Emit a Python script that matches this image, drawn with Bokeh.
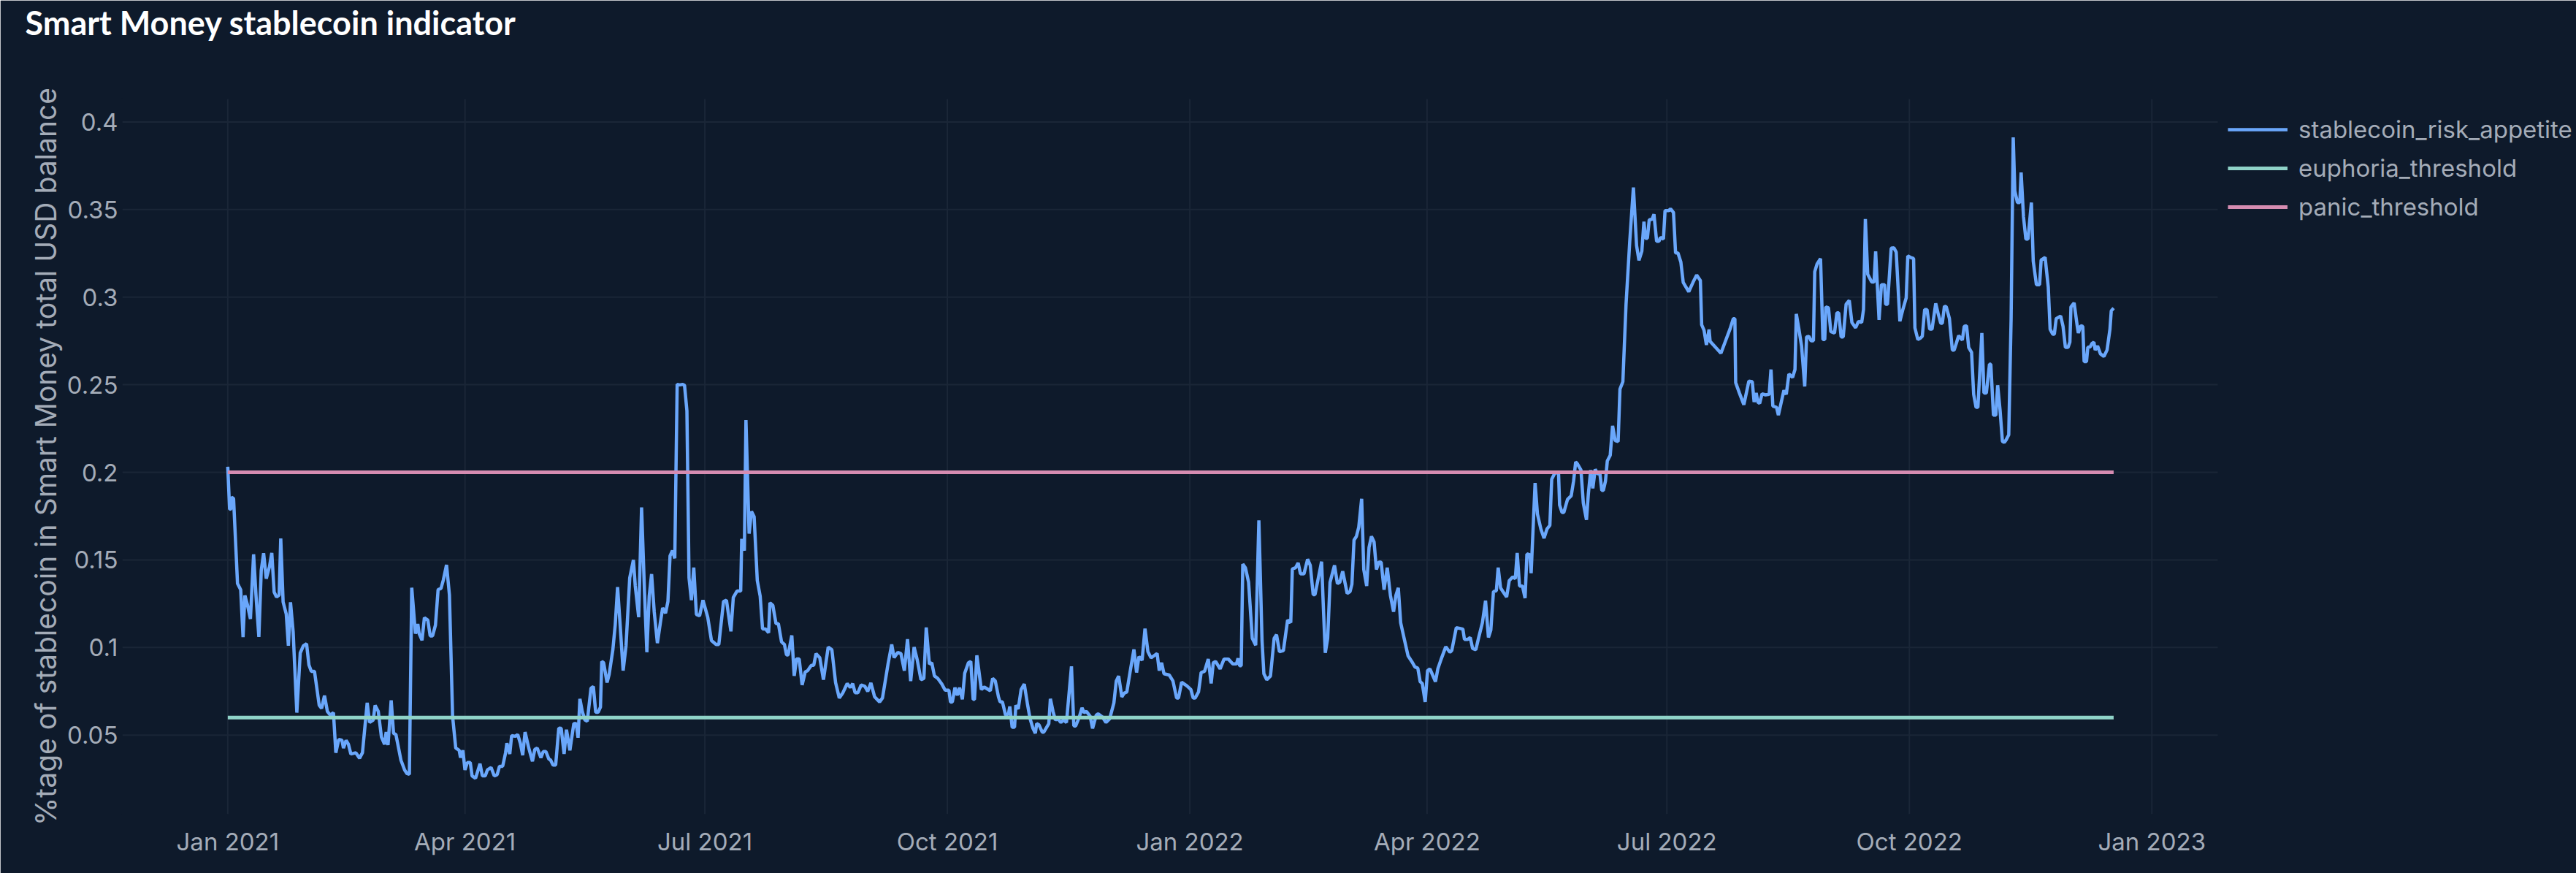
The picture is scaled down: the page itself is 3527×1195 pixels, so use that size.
import datetime as dt
from bokeh.plotting import figure
from bokeh.models import (Range1d, FixedTicker, DatetimeTickFormatter, Legend,
                          LegendItem, Title, ColumnDataSource)
from bokeh.embed import file_html
from bokeh.resources import INLINE

# ---------------- data ----------------
start_date = "2021-01-01"
day_offsets = [
    0, 0.7, 1.2, 1.4, 2.2, 3.7, 4.9, 5.8, 6.5, 7.4, 8.6, 9.8, 10.7, 11.8, 12.7, 13.6, 14.6, 15.8, 16.7, 17.6,
    18.5, 19.5, 20.1, 21.0, 22.2, 23.0, 23.8, 24.8, 26.2, 27.5, 28.7, 29.9, 30.8, 31.7, 32.9, 34.7, 35.6, 36.7,
    37.8, 38.9, 40.1, 41.0, 42.1, 43.3, 43.9, 44.9, 45.8, 46.7, 48.6, 50.0, 51.1, 52.9, 53.8, 55.2, 55.9, 57.1,
    58.3, 59.5, 60.1, 60.8, 62.0, 62.9, 63.8, 65.7, 67.1, 68.0, 68.9, 69.8, 71.2, 72.1, 72.6, 73.7, 74.6, 75.9,
    76.8, 77.7, 78.8, 79.8, 80.9, 81.8, 83.0, 84.1, 85.3, 86.5, 87.8, 88.3, 89.2, 90.0, 90.9, 92.0, 92.7, 94.0,
    95.7, 96.6, 97.7, 98.5, 99.9, 101.1, 102.2, 103.1, 104.3, 105.4, 105.9, 107.0, 107.7, 109.1, 110.0, 111.0,
    111.9, 112.8, 114.2, 115.6, 116.5, 117.4, 118.8, 119.7, 120.7, 121.8, 122.5, 123.4, 124.4, 125.6, 126.5,
    127.6, 128.5, 129.8, 131.3, 132.2, 132.9, 133.6, 134.5, 135.5, 136.4, 137.8, 138.7,
    139.6, 140.5, 141.4, 141.9, 142.6, 143.9, 144.7, 146.1, 147.0, 147.9, 148.8, 150.0, 151.1, 152.5, 153.9,
    154.6, 155.9, 157.0, 158.1, 159.0, 159.9, 160.8, 161.8, 163.0, 164.3, 165.0, 166.1, 167.0, 167.8, 168.7,
    169.6, 170.5, 171.5, 172.6, 173.3, 174.2, 175.0, 175.9, 176.8, 177.8, 179.0, 180.3, 182.1, 183.5, 185.3,
    186.3, 188.1, 189.2, 190.9, 191.8, 193.2, 194.6, 195.0, 196.0, 196.6, 197.8, 198.7, 199.7, 200.9, 202.0,
    202.9, 204.0, 205.2, 205.7, 206.8, 208.0, 208.9, 210.1, 211.2, 212.0, 212.6, 214.0, 214.9, 215.8, 216.8,
    217.9, 219.1, 220.0, 221.4, 222.3, 223.2, 224.6, 226.0, 227.8, 229.2, 230.6, 232.0, 233.4, 235.0, 236.2,
    237.1, 238.0, 239.1, 240.3, 241.7, 242.8, 244.0, 245.4, 247.3, 248.4, 250.5, 251.9, 252.8, 254.2, 255.4,
    256.7, 257.9, 259.1, 260.4, 261.6, 263.0, 264.1, 265.0, 266.2, 267.1, 268.1, 269.4, 270.8, 272.2, 273.6,
    274.2, 274.9, 275.9, 276.8, 277.6, 278.7, 279.6,
    281.0, 281.9, 282.8, 283.3, 284.2, 285.9, 287.0, 289.3, 290.2, 291.2, 292.4, 293.0, 293.9, 295.1, 296.2,
    296.7, 297.6, 298.5, 299.0, 299.9, 301.0, 302.2, 303.4, 304.4, 305.5, 306.4, 306.9, 307.8, 309.0, 309.6,
    311.5, 312.1, 313.1, 314.0, 314.9, 316.1, 317.0, 318.2, 320.1, 321.0, 321.7, 323.0, 324.1, 324.9, 325.8,
    327.2, 328.1, 329.5, 330.2, 331.8, 333.2, 334.6, 336.2, 337.1, 338.0, 339.2, 340.1, 341.1, 342.3, 343.8,
    344.8, 345.7, 346.9, 348.0, 349.1, 350.3, 352.6, 353.4, 354.3, 355.2, 357.2, 358.6, 360.0, 360.7, 361.9,
    363.9, 365.4, 366.3, 367.0, 368.3, 369.3, 370.6, 372.0, 373.1, 373.9, 374.8, 376.5, 378.0, 379.6, 381.3,
    382.7, 383.3, 383.9, 384.5, 385.1, 386.1, 387.3, 388.7, 390.0, 391.2, 392.4, 393.1, 394.2, 395.6, 397.0,
    397.9, 399.0, 400.5, 402.1, 403.3, 403.9, 405.1, 406.1, 407.0, 408.3, 409.7, 410.7, 411.8, 412.5, 413.8,
    415.0, 415.7, 416.4, 417.3, 418.2, 419.9, 421.0, 421.9,
    423.0, 424.7, 425.8, 426.5, 427.3, 428.2, 429.1, 430.2, 431.0, 432.1, 433.0, 433.9, 434.9, 435.8, 436.7,
    437.6, 438.7, 439.9, 441.1, 442.3, 443.2, 444.1, 445.0, 446.4, 447.8, 449.2, 450.4, 451.5, 452.4, 453.2,
    454.3, 455.2, 456.1, 457.0, 458.2, 459.1, 460.3, 462.1, 463.7, 464.4, 466.1, 467.4, 468.6, 469.2, 470.4,
    471.4, 472.3, 473.5, 474.6, 476.0, 477.2, 478.3, 479.2, 480.2, 481.3, 482.0, 482.9, 483.8, 485.2, 486.2,
    487.5, 488.5, 489.2, 490.1, 491.2, 492.2, 492.9, 494.0, 494.5, 496.0, 496.9, 498.2, 499.4, 500.5, 501.6,
    502.3, 503.7, 504.9, 505.3, 506.2, 506.9, 508.3, 509.7, 510.6, 511.4, 512.0, 513.4, 514.3, 515.5, 516.2,
    517.1, 517.9, 518.8, 519.7, 520.6, 521.3, 521.9, 522.7, 523.4, 524.5, 525.4, 526.4, 527.5, 528.2, 529.3,
    530.5, 531.9, 533.3, 534.5, 535.4, 536.5, 537.3, 537.9, 538.6, 539.3, 540.4, 541.1, 542.1, 543.0, 543.5,
    544.7, 545.3, 546.7, 547.4, 548.5, 549.3, 550.2, 551.3, 552.2, 554.3, 555.9, 557.3, 558.7, 559.2, 560.1,
    561.0, 562.0, 562.4, 564.3, 566.5, 568.5, 570.0,
    571.2, 571.8, 572.1, 573.5, 575.2, 577.1, 578.4, 579.1, 579.9, 580.5, 581.2, 582.1, 583.4, 584.8, 585.5,
    586.2, 587.6, 588.3, 590.4, 591.3, 592.3, 593.7, 594.6, 595.1, 596.0, 597.1, 598.3, 599.0, 599.9, 600.7,
    601.6, 602.1, 603.0, 604.3, 605.2, 605.9, 606.3, 607.3, 608.2, 609.6, 610.5, 611.2, 612.1, 612.9, 614.0,
    615.2, 616.2, 617.6, 618.7, 619.9, 620.6, 621.3, 622.2, 623.7, 624.6, 625.2, 626.5, 627.4, 628.6, 629.0,
    629.7, 631.1, 632.1, 633.0, 634.4, 635.4, 636.8, 637.4, 638.4, 639.6, 640.1, 641.2, 642.1, 642.9, 643.8,
    644.7, 645.7, 646.6, 648.0, 648.9, 649.9, 650.5, 651.3, 652.0, 653.2, 654.3, 655.0, 655.8, 656.7, 658.1,
    658.8, 659.7, 660.5, 661.6, 662.4, 663.3, 664.0, 665.5, 666.3, 667.2, 668.4, 668.9, 669.9, 670.8, 671.5,
    672.4, 673.3, 674.0, 674.7, 675.7, 676.6, 677.4, 678.0, 679.0, 679.9, 680.4, 681.3, 682.2, 683.0, 684.3,
    685.0, 686.2, 687.4, 688.0, 689.5, 690.7, 691.4, 692.4, 693.0, 693.7, 695.4, 696.3, 697.2, 698.2, 698.9,
    699.3, 700.5, 701.7, 702.1, 703.0, 703.8, 704.3, 705.2, 705.7, 706.6, 707.3, 708.0, 708.5, 709.4, 710.5,
    711.8, 713.0, 714.1, 714.6, 715.5,
]
stablecoin_risk_appetite = [
    .2032, .1789, .179, .1858, .185, .1365, .133, .1059, .1297, .1247, .1163, .1532, .130, .106, .144, .1538,
    .1393, .146, .154, .1316, .1288, .130, .1622, .126, .119, .101, .1258, .109, .0628, .0969, .101, .1021,
    .090, .0864, .0864, .067, .0652, .0725, .0635, .0614, .0628, .0399, .0475, .0471, .0426, .047, .0447,
    .0392, .0399, .0368, .0399, .0684, .0572, .0586, .067, .0635, .0489, .0447, .0517, .0443, .0698, .051,
    .0503, .0357, .0301, .028, .0276, .1341, .1079, .1135, .108, .1041, .117, .1156, .1066, .1066, .1128,
    .133, .1337, .1386, .1472, .130, .0607, .0426, .0413, .0371, .0413, .0301, .0343, .0343, .0267, .0253,
    .0336, .0267, .0267, .0301, .0315, .0267, .0274, .0322, .0322, .0399, .0454, .0392, .0497, .0493, .0503,
    .0454, .0385, .0517, .0426, .035, .0419, .0426, .0371, .0406, .0406, .0364, .0357, .0329, .0329, .054,
    .0538, .0392, .0531, .0413, .0566, .0566, .0485, .0707, .0635, .0586, .0579, .0767, .0777,
    .063, .063, .066, .092, .0913, .080, .0846, .0987, .1129, .1345, .1144, .0868, .101, .1397, .150, .1352,
    .1173, .180, .1322, .0973, .1293, .1419, .1203, .1025, .1159, .1226, .1196, .1263, .1523, .1553, .1509,
    .2502, .2499, .2502, .2496, .235, .1397, .127, .1456, .1188, .1181, .127, .1173, .104, .1017, .1017,
    .1263, .127, .1092, .1285, .1322, .1322, .162, .1553, .2298, .165, .1777, .1747, .1382, .1293, .1106,
    .1106, .1084, .1255, .124, .1136, .1136, .1032, .1017, .0957, .0957, .1069, .0838, .0935, .0935, .0786,
    .0861, .0868, .0898, .0898, .0965, .0942, .0816, .1002, .0987, .080, .0712, .0742, .0794, .0771, .0794,
    .0742, .0742, .0786, .0779, .0749, .0798, .0719, .0689, .0712, .0905, .1017, .0942, .0972, .0965, .0868,
    .1047, .0808, .1002, .0928, .0816, .0823, .1114, .0905, .0913, .0838, .0823, .0794, .0756, .0756, .0689,
    .0689, .0771, .0727, .0771, .0704, .0853,
    .0913, .092, .0704, .0704, .0955, .076, .0774, .0753, .0823, .0809, .0718, .069, .069, .0614, .0621,
    .0663, .0545, .0545, .067, .0649, .076, .0791, .0677, .0593, .0538, .051, .0565, .0558, .0517, .0517,
    .0565, .0707, .0635, .0586, .0593, .0572, .0586, .0572, .0892, .0552, .0552, .060, .0656, .0628, .0635,
    .0607, .0538, .0614, .0621, .0604, .0572, .0593, .0684, .0809, .0837, .0718, .0739, .0746, .0857, .0989,
    .0857, .0948, .0927, .1108, .0976, .0941, .0966, .0868, .0913, .085, .0843, .0809, .0711, .0711, .0802,
    .0781, .076, .0711, .0711, .0746, .0857, .0864, .0934, .0795, .0913, .092, .0878, .0934, .0934, .0906,
    .0906, .0938, .0896, .0896, .1476, .1455, .1372, .1052, .1013, .1726, .104, .085, .0816, .0837, .1052,
    .1073, .0976, .0982, .1156, .1142, .1448, .1455, .1483, .142, .142, .1504, .1469, .1302, .1302, .140,
    .149, .1219, .0969, .1052, .1372, .1469, .1365, .1372,
    .1435, .1309, .1319, .1361, .1613, .1634, .1687, .1849, .1445, .1351, .1571, .1634, .1603, .1445, .1487,
    .1487, .133, .1456, .1298, .1204, .1298, .134, .1141, .1046, .0952, .092, .0889, .0882, .0805, .0794,
    .0689, .0868, .0878, .0847, .0805, .0878, .0931, .1004, .0973, .0983, .1113, .1109, .1105, .1046, .1046,
    .1057, .0994, .0987, .1057, .1141, .1267, .1057, .1099, .1319, .1324, .1456, .134, .1319, .1288, .1382,
    .1403, .1393, .154, .1351, .1351, .1282, .1534, .1529, .1424, .1939, .1761, .1676, .1624, .1676, .1697,
    .196, .2002, .1992, .1813, .1771, .1771, .1845, .1866, .195, .2059, .205, .2013, .1824, .1729, .1876,
    .2013, .1908, .2017, .1992, .1992, .1897, .1897, .195, .2065, .2097, .2265, .2181, .2176, .2475, .2517,
    .2958, .3315, .3626, .3294, .321, .3262, .3431, .3336, .3336, .3441, .3445, .3473, .3319, .3319, .334,
    .3332, .3494, .3494, .3504, .3483, .3252, .3252, .320, .3084, .3031, .3084, .3126, .3095, .2842, .2811,
    .2727, .2815, .2748, .2716, .268, .276, .282,
    .2877, .2877, .2512, .2453, .2386, .252, .2517, .2401, .2453, .2401, .2393, .2448, .2442, .2445, .2587,
    .2378, .2371, .2326, .2468, .2445, .2561, .2542, .2587, .2904, .2825, .2721, .249, .2773, .2776, .2751,
    .2751, .3145, .319, .322, .2758, .2758, .2944, .2939, .2803, .2795, .291, .291, .2773, .2773, .2959,
    .2981, .2855, .2825, .2862, .2855, .2929, .3446, .313, .3086, .3086, .3261, .287, .3071, .3071, .2959,
    .2959, .3279, .3282, .3257, .2862, .2922, .2996, .3235, .3227, .322, .2825, .2758, .2765, .2776, .2929,
    .2929, .2817, .2817, .2964, .2907, .2851, .2851, .2949, .2944, .2877, .2698, .2698, .2736, .278, .2755,
    .2833, .2836, .2713, .2684, .2445, .2371, .2371, .2795, .2453, .2453, .2617, .2617, .2326, .2326, .2497,
    .2356, .2177, .217, .2185, .2214, .2877, .3912, .3607, .354, .354, .3711, .3458, .3331, .3331, .354,
    .3205, .3071, .3071, .3212, .3227, .3056, .2817, .2788, .2788, .2877, .2892, .2833, .2713, .2713, .2743,
    .2944, .2967, .2833, .2795, .2836, .2833, .2632, .2632, .2713, .2716, .2736, .2743, .2698, .2721, .2676,
    .2661, .2698, .2817, .2922, .2937,
]
euphoria_threshold = 0.06
panic_threshold = 0.2

x_tick_dates = ["2021-01-01", "2021-04-01", "2021-07-01", "2021-10-01", "2022-01-01",
                "2022-04-01", "2022-07-01", "2022-10-01", "2023-01-01"]
y_ticks = [0.05, 0.1, 0.15, 0.2, 0.25, 0.3, 0.35, 0.4]
y_tick_labels = ["0.05", "0.1", "0.15", "0.2", "0.25", "0.3", "0.35", "0.4"]

series_names = ["stablecoin_risk_appetite", "euphoria_threshold", "panic_threshold"]
series_colors = ["#6aa7fb", "#8fd3c8", "#d58cb1"]

# ---------------- layout constants ----------------
W, H = 3527, 1195
LEFT, TOP, BOTTOM = 167, 135, 81          # plot-area borders in px
PLOT_RIGHT = 3036                          # right edge of the gridded plot area (legend sits right of it)
x_start = dt.datetime(2020, 11, 22)
x_plot_end = dt.datetime(2023, 1, 26)
y_start, y_end = 0.00484, 0.4131

# the frame extends to the canvas edge so that the legend (inside it) is not clipped
px_per_s = (PLOT_RIGHT - LEFT) / (x_plot_end - x_start).total_seconds()
x_end = x_plot_end + dt.timedelta(seconds=(W - PLOT_RIGHT) / px_per_s)

# ---------------- build ----------------
t0 = dt.datetime.strptime(start_date, "%Y-%m-%d")
dates = [t0 + dt.timedelta(days=d) for d in day_offsets]
tick_dt = [dt.datetime.strptime(s, "%Y-%m-%d") for s in x_tick_dates]
EPOCH = dt.datetime(1970, 1, 1)
tick_ms = [(d - EPOCH).total_seconds() * 1000 for d in tick_dt]

BG = "#0e1a2b"
GRID = "#1a2637"
TXT = "#a4acb8"

p = figure(width=W, height=H, x_axis_type="datetime", title=None,
           output_backend="svg", toolbar_location=None,
           x_range=Range1d(x_start, x_end), y_range=Range1d(y_start, y_end),
           min_border_left=LEFT, min_border_right=0,
           min_border_top=TOP, min_border_bottom=BOTTOM)
p.background_fill_color = BG
p.border_fill_color = BG
p.outline_line_color = BG
p.outline_line_width = 3

# spacer (closest to the frame) then the real title on top
p.add_layout(Title(text=" ", text_font_size="10px", standoff=60, text_color=BG), "above")
p.add_layout(Title(text="Smart Money stablecoin indicator", align="left", offset=-133,
                   vertical_align="top", standoff=5, text_font="Lato", text_font_style="bold",
                   text_font_size="45px", text_color="#ffffff"), "above")

p.xaxis.ticker = FixedTicker(ticks=tick_ms)
fmt = "%b %Y"
p.xaxis.formatter = DatetimeTickFormatter(milliseconds=fmt, seconds=fmt, minsec=fmt, minutes=fmt,
                                          hourmin=fmt, hours=fmt, days=fmt, months=fmt, years=fmt)
p.yaxis.ticker = FixedTicker(ticks=y_ticks)
p.yaxis.major_label_overrides = dict(zip(y_ticks, y_tick_labels))

for ax in (p.xaxis[0], p.yaxis[0]):
    ax.axis_line_color = None
    ax.major_tick_line_color = None
    ax.minor_tick_line_color = None
    ax.major_tick_out = 0
    ax.major_tick_in = 0
    ax.minor_tick_out = 0
    ax.minor_tick_in = 0
    ax.major_label_text_color = TXT
    ax.major_label_text_font = "Inter"
    ax.major_label_text_font_size = "33px"
p.xaxis.major_label_standoff = 17
p.yaxis.major_label_standoff = 6
p.yaxis.axis_label = "%tage of stablecoin in Smart Money total USD balance"
p.yaxis.axis_label_text_font = "Inter"
p.yaxis.axis_label_text_font_style = "normal"
p.yaxis.axis_label_text_font_size = "39px"
p.yaxis.axis_label_text_color = TXT
p.yaxis.axis_label_standoff = 3

# grid lines limited to the plot area (built from the tick arrays)
p.xgrid.visible = False
p.ygrid.visible = False
vgrid = ColumnDataSource(dict(x=tick_dt, y0=[y_start] * len(tick_dt), y1=[y_end] * len(tick_dt)))
hgrid = ColumnDataSource(dict(y=y_ticks, x0=[x_start] * len(y_ticks), x1=[x_plot_end] * len(y_ticks)))
p.segment(x0="x", x1="x", y0="y0", y1="y1", source=vgrid, line_color=GRID, line_width=2)
p.segment(x0="x0", x1="x1", y0="y", y1="y", source=hgrid, line_color=GRID, line_width=2)

r1 = p.line(dates, stablecoin_risk_appetite, line_color=series_colors[0], line_width=4.5)
r2 = p.line([dates[0], dates[-1]], [euphoria_threshold, euphoria_threshold],
            line_color=series_colors[1], line_width=5)
r3 = p.line([dates[0], dates[-1]], [panic_threshold, panic_threshold],
            line_color=series_colors[2], line_width=5)

legend = Legend(items=[LegendItem(label=series_names[0], renderers=[r1]),
                       LegendItem(label=series_names[1], renderers=[r2]),
                       LegendItem(label=series_names[2], renderers=[r3])],
                location=(3050 - LEFT, 811), orientation="vertical",
                background_fill_alpha=0, border_line_alpha=0,
                label_text_font="Inter", label_text_font_size="33px", label_text_color=TXT,
                glyph_width=82, glyph_height=40, label_height=40, label_standoff=15,
                spacing=13, padding=0, margin=0)
p.add_layout(legend)

open("out.html", "w").write(file_html(p, INLINE))
